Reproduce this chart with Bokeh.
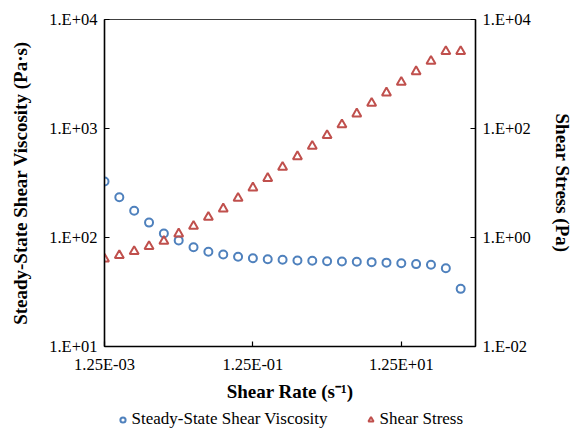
from bokeh.plotting import figure
from bokeh.layouts import column
from bokeh.models import (Range1d, LogScale, LogAxis, FixedTicker, CustomJSTickFormatter,
                          Legend, LegendItem, ColumnDataSource)
from bokeh.embed import file_html
from bokeh.resources import INLINE

# ---- data ----
shear_rate = [0.00125, 0.00198, 0.00314, 0.00498, 0.00789, 0.0125, 0.0198, 0.0314, 0.0498, 0.0789,
              0.125, 0.198, 0.314, 0.498, 0.789, 1.25, 1.98, 3.14, 4.98, 7.89,
              12.5, 19.8, 31.4, 49.8, 78.9]
viscosity = [326, 234, 176, 137, 109, 94, 81.5, 74, 69.8, 66.5,
             64.5, 63.2, 62.4, 61.5, 61.2, 60.6, 60.3, 60.0, 59.4, 58.8,
             58.0, 57.0, 56.3, 52.3, 33.8]
stress = [0.406, 0.468, 0.553, 0.684, 0.855, 1.17, 1.61, 2.36, 3.36, 5.26,
          8.16, 12.2, 19.5, 30.6, 47.3, 74.5, 118, 186, 291, 452,
          708, 1110, 1720, 2590, 2590]

x_ticks = [0.00125, 0.125, 12.5]
left_ticks = [10, 100, 1000, 10000]
right_ticks = [0.01, 1, 100, 10000]

series_names = ["Steady-State Shear Viscosity", "Shear Stress"]
x_title = "Shear Rate (s\u207b\u00b9)"
left_title = "Steady-State Shear Viscosity (Pa\u00b7s)"
right_title = "Shear Stress (Pa)"

BLUE = "#4F81BD"
RED = "#C0504D"
FONT = "Liberation Serif"

src = ColumnDataSource(dict(x=shear_rate, v=viscosity, s=stress))

p = figure(width=575, height=406, x_axis_type="log", y_axis_type="log",
           x_range=Range1d(0.00125, 125), y_range=Range1d(10, 10000),
           output_backend="svg", toolbar_location=None,
           min_border_left=104, min_border_right=97, min_border_top=19, min_border_bottom=60)
p.extra_y_ranges = {"stress": Range1d(0.01, 10000)}
p.extra_y_scales = {"stress": LogScale()}

p.xgrid.visible = False
p.ygrid.visible = False
p.outline_line_color = "#404040"
p.outline_line_width = 1.2
p.background_fill_color = "white"
p.border_fill_color = "white"

exp_fmt = CustomJSTickFormatter(code="""
const e = Math.round(Math.log10(tick));
const a = Math.abs(e);
return "1.E" + (e < 0 ? "-" : "+") + (a < 10 ? "0" : "") + a;
""")
x_fmt = CustomJSTickFormatter(code="""
const parts = tick.toExponential(2).split("e");
const e = parseInt(parts[1]);
const a = Math.abs(e);
return parts[0] + "E" + (e < 0 ? "-" : "+") + (a < 10 ? "0" : "") + a;
""")

right_axis = LogAxis(y_range_name="stress")
p.add_layout(right_axis, "right")

def style_axis(ax, ticks, fmt, title, standoff):
    ax.ticker = FixedTicker(ticks=ticks, minor_ticks=[])
    ax.formatter = fmt
    ax.axis_label = title
    ax.axis_label_text_font = FONT
    ax.axis_label_text_font_style = "bold"
    ax.axis_label_text_font_size = "19px"
    ax.axis_label_text_color = "black"
    ax.axis_label_standoff = standoff
    ax.major_label_text_font = FONT
    ax.major_label_text_font_size = "16.5px"
    ax.major_label_text_color = "black"
    ax.major_label_standoff = 7
    ax.major_tick_in = 5
    ax.major_tick_out = 0
    ax.minor_tick_in = 0
    ax.minor_tick_out = 0
    ax.axis_line_color = "black"
    ax.axis_line_width = 1.5
    ax.major_tick_line_color = "black"
    ax.major_tick_line_width = 1.2

style_axis(p.xaxis[0], x_ticks, x_fmt, x_title, 4)
style_axis(p.yaxis[0], left_ticks, exp_fmt, left_title, 15)
style_axis(right_axis, right_ticks, exp_fmt, right_title, 18)
p.xaxis[0].major_label_standoff = 8

p.scatter("x", "v", source=src, marker="circle", size=8, fill_color=None,
          line_color=BLUE, line_width=2)
p.scatter("x", "s", source=src, marker="triangle", size=9, fill_color=None,
          line_color=RED, line_width=2, y_range_name="stress")

# ---- legend strip below the chart (its frame is aligned with the chart's frame) ----
lg = figure(width=575, height=23, x_range=Range1d(0, 1), y_range=Range1d(0, 1),
            output_backend="svg", toolbar_location=None,
            x_axis_location=None, y_axis_location=None,
            min_border_left=0, min_border_right=0, min_border_top=0, min_border_bottom=0)
lg.xgrid.visible = False
lg.ygrid.visible = False
lg.outline_line_color = None
lg.background_fill_color = "white"
lg.border_fill_color = "white"
nan = float("nan")
key_src = ColumnDataSource(dict(x=[nan], y=[nan]))
e1 = lg.scatter("x", "y", source=key_src, marker="circle", size=8, fill_color=None,
                line_color=BLUE, line_width=2)
e2 = lg.scatter("x", "y", source=key_src, marker="triangle", size=9, fill_color=None,
                line_color=RED, line_width=2)

legend = Legend(items=[LegendItem(label=series_names[0], renderers=[e1], index=0),
                       LegendItem(label=series_names[1], renderers=[e2], index=0)],
                orientation="horizontal", location=(11.5, 0),
                glyph_width=13, glyph_height=13, label_standoff=3, spacing=36,
                padding=0, margin=0, label_text_font=FONT, label_text_font_size="17px",
                label_text_color="black", background_fill_alpha=0, border_line_alpha=0)
lg.add_layout(legend, "center")

layout = column(p, lg, spacing=0)
open("out.html", "w").write(file_html(layout, INLINE))
